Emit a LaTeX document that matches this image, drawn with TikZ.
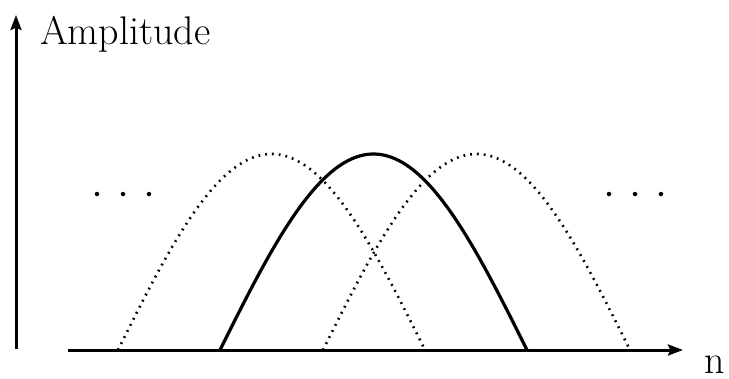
\documentclass[tikz,border=0pt]{standalone}
\usetikzlibrary{arrows.meta}
\begin{document}
\begin{tikzpicture}[x=1pt,y=-1pt,
  axis/.style={line width=3pt,-{Stealth[length=15pt,width=11pt,inset=2.5pt]}},
  solidcurve/.style={line width=3.2pt},
  dotcurve/.style={line width=2.6pt,dash pattern=on 1.8pt off 5pt},
  lbl/.style={inner sep=0pt,font=\fontsize{40}{44}\selectfont},
  ell/.style={circle,fill=black,inner sep=0pt,minimum size=4.5pt}]
\useasboundingbox (0,0) rectangle (729,378);
% axes
\coordinate (yo) at (16,349);
\coordinate (ytip) at (16,15);
\coordinate (xo) at (68,350);
\coordinate (xtip) at (683,350);
\draw[axis] (yo) -- (ytip);
\draw[axis] (xo) -- (xtip);
% labels
\node[lbl,anchor=base west] (amp) at (40,44) {Amplitude};
\node[lbl,anchor=base west] (n) at (704,373) {n};
% curves
\draw[dotcurve] plot[domain=0:180,samples=90] ({118+1.705556*\x},{350-196*sin(\x)});
\draw[dotcurve] plot[domain=0:180,samples=90] ({323+1.705556*\x},{350-196*sin(\x)});
\draw[solidcurve] plot[domain=0:180,samples=90] ({220+1.705556*\x},{350-196*sin(\x)});
% ellipsis dots
\foreach \i/\xx in {l1/97,l2/123,l3/149,r1/609,r2/635,r3/661}
  \node[ell] (d\i) at (\xx,194) {};
\end{tikzpicture}
\end{document}
